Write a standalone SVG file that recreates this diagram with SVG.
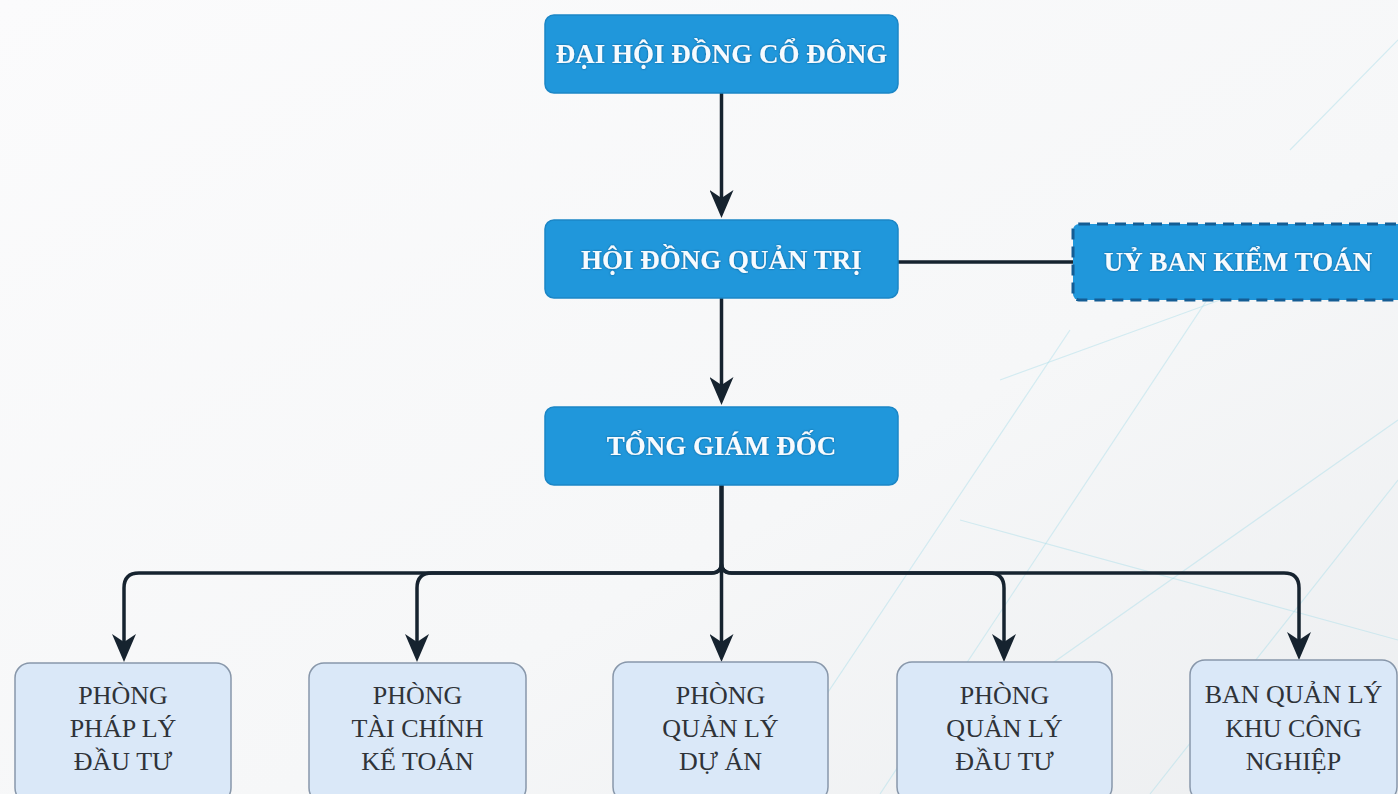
<svg xmlns="http://www.w3.org/2000/svg" width="1398" height="794" viewBox="0 0 1398 794">
  <defs>
    <linearGradient id="bg" x1="0" y1="0" x2="1" y2="1">
      <stop offset="0" stop-color="#fbfbfc"/>
      <stop offset="0.6" stop-color="#f6f7f8"/>
      <stop offset="1" stop-color="#eceef0"/>
    </linearGradient>
    <marker id="arrow" markerUnits="userSpaceOnUse" viewBox="0 0 28 24" markerWidth="28" markerHeight="24" refX="8" refY="12" orient="auto">
      <path d="M0,0 L28,12 L0,24 L8,12 Z" fill="#16232f"/>
    </marker>
    <filter id="glow" x="-10%" y="-30%" width="120%" height="160%">
      <feDropShadow dx="0" dy="0" stdDeviation="0.8" flood-color="#0d4f80" flood-opacity="0.8"/>
    </filter>
  </defs>
  <style>
    .main rect { fill: #2097db; stroke: #1b86c6; stroke-width: 1.5; }
    .main text { font-family: "Liberation Serif", "Times New Roman", serif; font-weight: bold; font-size: 27px; fill: #f6fbff; text-anchor: middle; filter: url(#glow); }
    .dashed rect { fill: #2097db; stroke: #145d94; stroke-width: 3; stroke-dasharray: 11 7; }
    .dept rect { fill: #dae8f8; stroke: #8897aa; stroke-width: 1.5; }
    .dept text { font-family: "Liberation Serif", "Times New Roman", serif; font-size: 26px; fill: #2f3338; text-anchor: middle; }
    .conn path { fill: none; stroke: #16232f; stroke-width: 3.5; stroke-linejoin: round; }
    .deco line { stroke: #a9dde9; stroke-width: 1.2; opacity: 0.45; }
  </style>

  <rect id="background" x="0" y="0" width="1398" height="794" fill="url(#bg)"/>
  <g class="deco">
    <line x1="760" y1="794" x2="1070" y2="330"/>
    <line x1="880" y1="794" x2="1240" y2="250"/>
    <line x1="1000" y1="700" x2="1398" y2="420"/>
    <line x1="960" y1="520" x2="1398" y2="640"/>
    <line x1="1150" y1="794" x2="1398" y2="480"/>
    <line x1="1290" y1="150" x2="1398" y2="40"/>
    <line x1="1000" y1="380" x2="1220" y2="300"/>
  </g>

  <g class="conn" id="connectors">
    <path d="M721.5,93 V198" marker-end="url(#arrow)"/>
    <path d="M721.5,298 V385" marker-end="url(#arrow)"/>
    <path d="M898,262 H1073"/>
    <path d="M721.5,485 V563 Q721.5,573 711.5,573 H139 Q124,573 124,588 V642" marker-end="url(#arrow)"/>
    <path d="M721.5,485 V563 Q721.5,573 711.5,573 H432 Q417,573 417,588 V642" marker-end="url(#arrow)"/>
    <path d="M721.5,485 V642" marker-end="url(#arrow)"/>
    <path d="M721.5,485 V563 Q721.5,573 731.5,573 H989 Q1004,573 1004,588 V642" marker-end="url(#arrow)"/>
    <path d="M721.5,485 V563 Q721.5,573 731.5,573 H1284 Q1299,573 1299,588 V640" marker-end="url(#arrow)"/>
  </g>

  <g id="dai-hoi-dong-co-dong" class="main">
    <rect x="545" y="15" width="353" height="78" rx="9"/>
    <text x="721.5" y="63">ĐẠI HỘI ĐỒNG CỔ ĐÔNG</text>
  </g>
  <g id="hoi-dong-quan-tri" class="main">
    <rect x="545" y="220" width="353" height="78" rx="9"/>
    <text x="721.5" y="269">HỘI ĐỒNG QUẢN TRỊ</text>
  </g>
  <g id="uy-ban-kiem-toan" class="main dashed">
    <rect x="1073" y="224" width="335" height="76" rx="6"/>
    <text x="1238" y="271">UỶ BAN KIỂM TOÁN</text>
  </g>
  <g id="tong-giam-doc" class="main">
    <rect x="545" y="407" width="353" height="78" rx="9"/>
    <text x="721.5" y="455">TỔNG GIÁM ĐỐC</text>
  </g>

  <g id="phong-phap-ly-dau-tu" class="dept">
    <rect x="15" y="663" width="216" height="140" rx="15"/>
    <text x="123" y="704">PHÒNG</text>
    <text x="123" y="737">PHÁP LÝ</text>
    <text x="123" y="770">ĐẦU TƯ</text>
  </g>
  <g id="phong-tai-chinh-ke-toan" class="dept">
    <rect x="309" y="663" width="217" height="140" rx="15"/>
    <text x="417.5" y="704">PHÒNG</text>
    <text x="417.5" y="737">TÀI CHÍNH</text>
    <text x="417.5" y="770">KẾ TOÁN</text>
  </g>
  <g id="phong-quan-ly-du-an" class="dept">
    <rect x="613" y="662" width="215" height="140" rx="15"/>
    <text x="720.5" y="704">PHÒNG</text>
    <text x="720.5" y="737">QUẢN LÝ</text>
    <text x="720.5" y="770">DỰ ÁN</text>
  </g>
  <g id="phong-quan-ly-dau-tu" class="dept">
    <rect x="897" y="662" width="215" height="140" rx="15"/>
    <text x="1004.5" y="704">PHÒNG</text>
    <text x="1004.5" y="737">QUẢN LÝ</text>
    <text x="1004.5" y="770">ĐẦU TƯ</text>
  </g>
  <g id="ban-quan-ly-khu-cong-nghiep" class="dept">
    <rect x="1190" y="660" width="207" height="142" rx="15"/>
    <text x="1293.5" y="703">BAN QUẢN LÝ</text>
    <text x="1293.5" y="737">KHU CÔNG</text>
    <text x="1293.5" y="770">NGHIỆP</text>
  </g>
</svg>
